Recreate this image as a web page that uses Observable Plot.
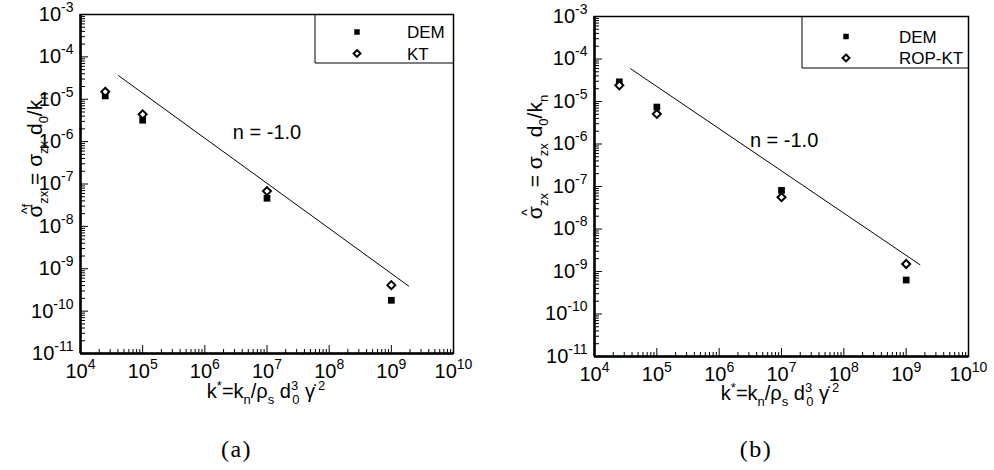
<!DOCTYPE html>
<html><head><meta charset="utf-8">
<script src="https://cdn.jsdelivr.net/npm/d3@7"></script>
<script src="https://cdn.jsdelivr.net/npm/@observablehq/plot@0.6"></script>
<style>
html,body{margin:0;padding:0;background:#fff;}
#wrap{position:relative;width:994px;height:470px;overflow:hidden;background:#fff;}
.panel{position:absolute;top:0;}
.cap{position:absolute;top:436px;line-height:26px;font-family:"Liberation Serif","DejaVu Serif",serif;font-size:24px;letter-spacing:1.5px;transform:translateX(-50%);color:#000;}
</style></head><body><div id="wrap"></div>
<script>
// ---- data ----
const kValues = [2.5e4, 1e5, 1e7, 1e9];
const demA = [1.2e-5, 3.2e-6, 4.6e-8, 1.8e-10];
const ktA  = [1.5e-5, 4.4e-6, 6.8e-8, 4.1e-10];
const demB = [2.9e-5, 7.4e-6, 8.1e-8, 6.3e-10];
const ropB = [2.4e-5, 5.1e-6, 5.6e-8, 1.5e-9];
const fitKA = [4.1e4, 1.9e9];
const fitYA = [3.6e-5, 3.9e-10];
const fitKB = [3.8e4, 1.66e9];
const fitYB = [5.9e-5, 1.45e-9];
const xDecades = [4, 5, 6, 7, 8, 9, 10];
const yDecades = [-11, -10, -9, -8, -7, -6, -5, -4, -3];
const legendA = ["DEM", "KT"];
const legendB = ["DEM", "ROP-KT"];
const slopeLabel = "n = -1.0";
const slopeAtA = {k: 1e7, v: 1.65e-6};
const slopeAtB = {k: 1.1e7, v: 1.2e-6};
const captions = ["(a)", "(b)"];

const NS = "http://www.w3.org/2000/svg";
const FONT = "'Liberation Sans', Arial, Helvetica, sans-serif";

function supify(svg, sel){
  svg.querySelectorAll(sel).forEach(t => {
    const parts = t.textContent.split("|");
    if (parts.length < 2) return;
    t.textContent = "";
    const a = document.createElementNS(NS, "tspan"); a.textContent = parts[0]; t.appendChild(a);
    const s = document.createElementNS(NS, "tspan"); s.textContent = parts[1];
    s.setAttribute("dy", "-9"); s.setAttribute("font-size", "14"); t.appendChild(s);
  });
}

function richText(parent, parts, attrs, size){
  const t = d3.select(parent).append("text")
    .attr("font-family", FONT).attr("font-size", size).attr("fill", "black")
    .attr("text-anchor", "middle");
  Object.entries(attrs).forEach(([k, v]) => t.attr(k, v));
  let shift = 0;
  parts.forEach(p => {
    const ts = t.append("tspan").text(p.t);
    const target = p.y !== undefined ? p.y : p.s === "sub" ? 6 : p.s === "sup" ? -8 : 0;
    if (target !== shift) { ts.attr("dy", target - shift); shift = target; }
    const fs = p.fs || (p.s ? 13 : null);
    if (fs) ts.attr("font-size", fs);
    if (p.dx) ts.attr("dx", p.dx);
  });
  return t;
}

function panel(o){
  const W = o.width, H = 420;
  const iw = W - o.ml - o.mr, ih = H - o.mt - o.mb;
  const majorX = xDecades.map(e => 10 ** e);
  const minorX = xDecades.slice(0, -1).flatMap(e => d3.range(2, 10).map(m => m * 10 ** e));
  const majorY = yDecades.map(e => 10 ** e);
  const minorY = yDecades.slice(0, -1).flatMap(e => d3.range(2, 10).map(m => m * 10 ** e));
  const pts = ys => kValues.map((k, i) => ({k, v: ys[i]}));
  const fit = o.fitK.map((k, i) => ({k, v: o.fitY[i]}));
  const fmt = d => "10|" + Math.round(Math.log10(d));

  const svg = Plot.plot({
    width: W, height: H,
    marginLeft: o.ml, marginRight: o.mr, marginTop: o.mt, marginBottom: o.mb,
    x: {type: "log", domain: [1e4, 1e10], label: null},
    y: {type: "log", domain: [1e-11, 1e-3], label: null},
    style: {fontFamily: FONT, fontSize: "20px", background: "white", color: "black", overflow: "visible"},
    marks: [
      Plot.tickX(minorX, {x: d => d, insetTop: ih - 4, stroke: "black", strokeWidth: 1}),
      Plot.tickX(majorX, {x: d => d, insetTop: ih - 8, stroke: "black", strokeWidth: 1}),
      Plot.tickY(minorY, {y: d => d, insetRight: iw - 5, stroke: "black", strokeWidth: 1}),
      Plot.tickY(majorY, {y: d => d, insetRight: iw - 8, stroke: "black", strokeWidth: 1}),
      Plot.axisX(majorX, {tickSize: 0, tickPadding: 10, tickFormat: fmt, fontSize: 20, label: null}),
      Plot.axisY(majorY, {tickSize: 0, tickPadding: 7, tickFormat: fmt, fontSize: 20, label: null}),
      Plot.frame({stroke: "black", strokeWidth: 1.5}),
      Plot.ruleX([1e4], {stroke: "black", strokeWidth: 2.5}),
      Plot.ruleY([1e-11], {stroke: "black", strokeWidth: 2.5}),
      Plot.line(fit, {x: "k", y: "v", stroke: "black", strokeWidth: 1}),
      Plot.text([o.slopeAt], {x: "k", y: "v", text: () => slopeLabel, fontSize: 20, fill: "black"}),
      Plot.dot(pts(o.dem), {x: "k", y: "v", symbol: "square", r: 3.8, fill: "black"}),
      Plot.dot(pts(o.kt), {x: "k", y: "v", symbol: "diamond2", r: 3.6, fill: "white", stroke: "black", strokeWidth: 2})
    ]
  });
  supify(svg, 'g[aria-label="x-axis tick label"] text');
  supify(svg, 'g[aria-label="y-axis tick label"] text');

  // axis titles
  richText(svg, o.yTitle, {transform: `translate(${o.yTitleX},${o.yTitleY}) rotate(-90)`}, 21);
  richText(svg, [
    {t: "k"}, {t: "*", s: "sup"}, {t: "=k"}, {t: "n", s: "sub"}, {t: "/ρ"}, {t: "s", s: "sub"},
    {t: " d"}, {t: "3", s: "sup"}, {t: "0", s: "sub", dx: -6}, {t: " γ̇"}, {t: "2", s: "sup", dx: 3}
  ], {x: o.xTitleX, y: o.xTitleY}, 20);

  // legend
  const right = W - o.mr, top = o.mt;
  const g = d3.select(svg).append("g").attr("text-anchor", "start");
  g.append("path")
    .attr("d", `M${right - o.lg.w},${top}V${top + o.lg.h}H${right}`)
    .attr("fill", "none").attr("stroke", "black").attr("stroke-width", 1);
  const sq = d3.symbol().type(d3.symbolSquare).size(Math.PI * 3.1 * 3.1);
  const dm = d3.symbol().type(d3.symbolDiamond2 || d3.symbolDiamond).size(Math.PI * 3.1 * 3.1);
  o.legend.forEach((name, i) => {
    const my = top + o.lg.rows[i];
    const p = g.append("path").attr("transform", `translate(${right - o.lg.mx},${my})`);
    if (i === 0) p.attr("d", sq()).attr("fill", "black");
    else p.attr("d", dm()).attr("fill", "white").attr("stroke", "black").attr("stroke-width", 2);
    g.append("text").attr("x", right - o.lg.tx).attr("y", my + 6)
      .attr("text-anchor", "start")
      .attr("font-family", FONT).attr("font-size", 17).attr("fill", "black").text(name);
  });
  return svg;
}

const wrap = document.getElementById("wrap");
const left = panel({
  width: 490, ml: 80, mr: 37, mt: 14, mb: 67,
  dem: demA, kt: ktA, fitK: fitKA, fitY: fitYA, slopeAt: slopeAtA, legend: legendA,
  lg: {w: 138, h: 49, mx: 96, tx: 46, rows: [18, 39.5]},
  yTitle: [{t: "σ"}, {t: "^", y: -10, fs: 14, dx: -9.5}, {t: "f", s: "sup", y: -11}, {t: "zx", s: "sub"},
           {t: " = σ"}, {t: "zx", s: "sub"}, {t: " d"}, {t: "0", s: "sub"}, {t: "/k"}, {t: "n", s: "sub"}],
  yTitleX: 42, yTitleY: 155, xTitleX: 266, xTitleY: 398
});
left.classList.add("panel"); left.style.left = "0px";
wrap.appendChild(left);

const rightP = panel({
  width: 494, ml: 94, mr: 26, mt: 16, mb: 64,
  dem: demB, kt: ropB, fitK: fitKB, fitY: fitYB, slopeAt: slopeAtB, legend: legendB,
  lg: {w: 166, h: 52, mx: 122, tx: 69, rows: [20.5, 42]},
  yTitle: [{t: "σ"}, {t: "^", y: -10, fs: 14, dx: -9.5}, {t: "zx", s: "sub", dx: 3}, {t: " = σ"}, {t: "zx", s: "sub"},
           {t: " d"}, {t: "0", s: "sub"}, {t: "/k"}, {t: "n", s: "sub"}],
  yTitleX: 42, yTitleY: 157, xTitleX: 280, xTitleY: 400
});
rightP.classList.add("panel"); rightP.style.left = "500px";
wrap.appendChild(rightP);

[[captions[0], 236.5], [captions[1], 756]].forEach(([t, x]) => {
  const d = document.createElement("div");
  d.className = "cap"; d.textContent = t; d.style.left = x + "px";
  wrap.appendChild(d);
});
</script></body></html>
